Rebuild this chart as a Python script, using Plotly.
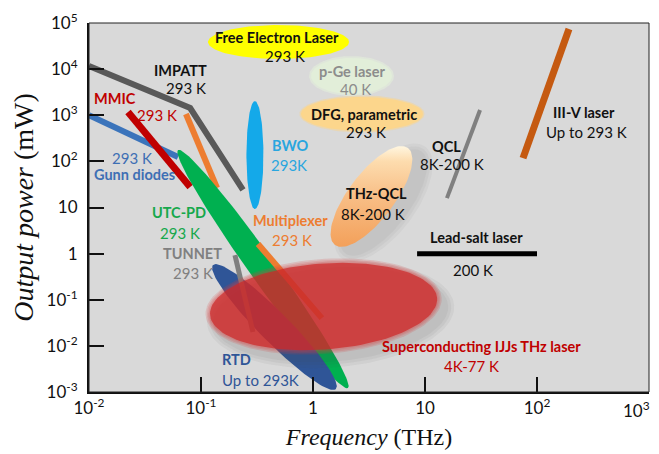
import numpy as np
import plotly.graph_objects as go

# ---------------- figure geometry (page body has an 8px margin) ----------------
W, H = 651, 446
ML, MR, MT, MB = 81, 10, 15, 62
XR = (-2, 3)   # log10 THz
YR = (-3, 5)   # log10 mW
KX = (W - ML - MR) / (XR[1] - XR[0])
KY = (H - MT - MB) / (YR[1] - YR[0])

# ---------------- data: line-type sources (freq THz, power mW) ----------------
impatt_f = [0.01, 0.08, 0.237]
impatt_p = [11700, 1435, 24]
gunn_f = [0.01, 0.0624]
gunn_p = [1000, 124]
mmic_f = [0.0223, 0.08]
mmic_p = [1175, 27.8]
mux_upper_f = [0.0734, 0.139]
mux_upper_p = [1064, 26.5]
mux_lower_f = [0.323, 1.20]
mux_lower_p = [1.62, 0.040]
tunnet_f = [0.201, 0.291]
tunnet_p = [0.93, 0.020]
qcl_f = [15.7, 31]
qcl_p = [16, 1300]
iiiv_f = [75, 193]
iiiv_p = [118, 74000]
leadsalt_f = [8.5, 100]
leadsalt_p = [1.0, 1.0]

# ---------------- data: region-type sources (tip-to-tip) ----------------
fel_f = [0.1155, 2.1]
fel_p = [38700, 38700]
pge_f = [0.96, 5.07]
pge_p = [7100, 7100]
dfg_f = [0.78, 9.6]
dfg_p = [1065, 1065]
bwo_f = [0.303, 0.303]
bwo_p = [2040, 9.27]
thzqcl_f = [1.57, 7.05]
thzqcl_p = [1.54, 195]
utcpd_f = [0.0624, 2.05]
utcpd_p = [176, 0.00122]
rtd_f = [0.128, 1.6]
rtd_p = [0.567, 0.00116]
ijj_f = [0.118, 13.1]
ijj_p = [0.0467, 0.109]

# ---------------- tick labels ----------------
x_tickvals = [0.01, 0.1, 1, 10, 100, 1000]
x_ticktext = ["10<sup>-2</sup>", "10<sup>-1</sup>", "1", "10", "10<sup>2</sup>", ""]
x_last_label = "10<sup>3</sup>"
y_tickvals = [1e-3, 1e-2, 1e-1, 1, 10, 100, 1e3, 1e4, 1e5]
y_ticktext = ["10<sup>-3</sup>", "10<sup>-2</sup>", "10<sup>-1</sup>", "1", "10",
              "10<sup>2</sup>", "10<sup>3</sup>", "10<sup>4</sup>", "10<sup>5</sup>"]


def ellipse(fs, ps, width, grow=0.0, dx=0.0, dy=0.0, n=120):
    """Ellipse through two tips (data values), width in screen px."""
    X = (np.log10(fs) - XR[0]) * KX
    Y = (np.log10(ps) - YR[0]) * KY
    cx, cy = X.mean() + dx, Y.mean() - dy
    a = np.hypot(X[1] - X[0], Y[1] - Y[0]) / 2 + grow
    b = width / 2 + grow
    th = np.arctan2(Y[1] - Y[0], X[1] - X[0])
    t = np.linspace(0, 2 * np.pi, n)
    ex, ey = a * np.cos(t), b * np.sin(t)
    px = cx + ex * np.cos(th) - ey * np.sin(th)
    py = cy + ex * np.sin(th) + ey * np.cos(th)
    return 10 ** (px / KX + XR[0]), 10 ** (py / KY + YR[0])


fig = go.Figure()


def add_region(fs, ps, width, color, grow=0.0, dx=0.0, dy=0.0, **kw):
    ex, ey = ellipse(fs, ps, width, grow, dx, dy)
    fig.add_trace(go.Scatter(x=ex, y=ey, mode="lines", fill="toself",
                             fillcolor=color, line=dict(width=0),
                             hoverinfo="skip", showlegend=False, **kw))


def add_line(fs, ps, color, width):
    fig.add_trace(go.Scatter(x=fs, y=ps, mode="lines",
                             line=dict(color=color, width=width),
                             hoverinfo="skip", showlegend=False))


# top regions
add_region(fel_f, fel_p, 34, "#ffff00")
add_region(pge_f, pge_p, 36, "rgba(226,238,218,0.6)", grow=2)
add_region(pge_f, pge_p, 36, "#e2eed9")
add_region(dfg_f, dfg_p, 34, "rgba(252,214,140,0.5)", grow=1.5)
add_region(dfg_f, dfg_p, 34, "#fcd68c")

# THz-QCL shadow + body
for g in [9, 6, 3]:
    add_region(thzqcl_f, thzqcl_p, 46, "rgba(90,90,90,0.055)", grow=g, dx=12, dy=6)
ex, ey = ellipse(thzqcl_f, thzqcl_p, 46)
fig.add_trace(go.Scatter(x=ex, y=ey, mode="lines", fill="toself",
                         fillgradient=dict(type="vertical",
                                           colorscale=[[0, "#f3a05a"], [0.5, "#f8be86"],
                                                       [0.85, "#fddcae"], [1, "#fff6e0"]]),
                         line=dict(width=0), hoverinfo="skip", showlegend=False))

# low-frequency electronic sources
add_line(mux_upper_f, mux_upper_p, "#ed7d31", 6)
add_line(impatt_f, impatt_p, "#595959", 6)
add_line(gunn_f, gunn_p, "#3b74bb", 6)
add_line(mmic_f, mmic_p, "#c00000", 7)
add_region(bwo_f, bwo_p, 17, "#14a9e9")
add_region(utcpd_f, utcpd_p, 26, "#00b050")
add_line(mux_lower_f, mux_lower_p, "#ed7d31", 6)
add_region(rtd_f, rtd_p, 30, "#2f5597")
add_line(tunnet_f, tunnet_p, "#7f7f7f", 5)

# high-frequency lasers
add_line(qcl_f, qcl_p, "#808080", 4)
add_line(iiiv_f, iiiv_p, "#c55a11", 7)
add_line(leadsalt_f, leadsalt_p, "#000000", 5)

# superconducting IJJ laser (soft, translucent)
for g in [9, 6, 3]:
    add_region(ijj_f, ijj_p, 88, "rgba(70,70,70,0.06)", grow=g, dx=7, dy=8)
for g in [3.5, 2, 0.5]:
    add_region(ijj_f, ijj_p, 88, "rgba(215,60,60,0.18)", grow=g)
add_region(ijj_f, ijj_p, 88, "rgba(205,40,40,0.72)", grow=-1)

# ---------------- labels (text, log10 f, log10 P, color, bold) ----------------
labels = [
    ("IMPATT", -1.179, 3.981, "#111111", True),
    ("293 K", -1.134, 3.591, "#111111", False),
    ("MMIC", -1.768, 3.374, "#c00000", True),
    ("293 K", -1.393, 3.005, "#c00000", False),
    ("293 K", -1.616, 2.073, "#3e6fb4", False),
    ("Gunn diodes", -1.598, 1.705, "#3e6fb4", True),
    ("BWO", -0.205, 2.355, "#29a6df", True),
    ("293K", -0.214, 1.921, "#29a6df", False),
    ("UTC-PD", -1.196, 0.902, "#16a84c", True),
    ("293 K", -1.188, 0.447, "#16a84c", False),
    ("Multiplexer", -0.205, 0.729, "#ed7d31", True),
    ("293 K", -0.188, 0.295, "#ed7d31", False),
    ("TUNNET", -1.080, 0.0135, "#808080", True),
    ("293 K", -1.071, -0.420, "#808080", False),
    ("RTD", -0.679, -2.285, "#2f5597", True),
    ("Up to 293K", -0.473, -2.740, "#2f5597", False),
    ("Free Electron Laser", -0.321, 4.696, "#111111", True),
    ("293 K", -0.25, 4.285, "#111111", False),
    ("p-Ge laser", 0.348, 3.959, "#8c8c8c", True),
    ("40 K", 0.375, 3.569, "#8c8c8c", False),
    ("DFG, parametric", 0.455, 3.027, "#111111", True),
    ("293 K", 0.473, 2.637, "#111111", False),
    ("THz-QCL", 0.571, 1.314, "#111111", True),
    ("8K-200 K", 0.536, 0.859, "#111111", False),
    ("QCL", 1.1875, 2.32, "#111111", True),
    ("8K-200 K", 1.241, 1.95, "#111111", False),
    ("III-V laser", 2.420, 3.049, "#111111", True),
    ("Up to 293 K", 2.446, 2.637, "#111111", False),
    ("Lead-salt laser", 1.464, 0.339, "#111111", True),
    ("200 K", 1.429, -0.355, "#111111", False),
    ("Superconducting IJJs THz laser", 1.5, -2.024, "#c00000", True),
    ("4K-77 K", 1.411, -2.436, "#c00000", False),
]
for txt, lx, ly, col, bold in labels:
    fig.add_annotation(x=lx, y=ly, xref="x", yref="y",
                       text=f"<b>{txt}</b>" if bold else txt,
                       showarrow=False, xanchor="center", yanchor="middle",
                       font=dict(family="Lato", size=14.5 if bold else 15, color=col))

# last x tick label (kept inside the page)
fig.add_annotation(x=1, y=0, xref="paper", yref="paper", text=x_last_label,
                   showarrow=False, xanchor="right", yanchor="top",
                   xshift=3, yshift=-4,
                   font=dict(family="Lato", size=17, color="#111111"))

fig.add_shape(type="rect", xref="paper", yref="paper", x0=0, y0=0, x1=1, y1=1,
              line=dict(color="#222222", width=1), layer="above")

fig.update_layout(
    width=W, height=H,
    margin=dict(l=ML, r=MR, t=MT, b=MB, autoexpand=False),
    paper_bgcolor="white", plot_bgcolor="#d9d9d9",
    showlegend=False,
    xaxis=dict(type="log", range=list(XR), tickvals=x_tickvals, ticktext=x_ticktext,
               ticks="inside", ticklen=15, tickwidth=1.5, tickcolor="#111111",
               showline=True, linewidth=2, linecolor="#111111",
               showgrid=False, zeroline=False,
               tickfont=dict(family="Lato", size=17, color="#111111"),
               title=dict(text="<i>Frequency</i> (THz)", standoff=11,
                          font=dict(family="Liberation Serif", size=24, color="#111111")),
               automargin=False),
    yaxis=dict(type="log", range=list(YR), tickvals=y_tickvals, ticktext=y_ticktext,
               ticks="inside", ticklen=15, tickwidth=1.5, tickcolor="#111111",
               showline=True, linewidth=2, linecolor="#111111",
               showgrid=False, zeroline=False,
               tickfont=dict(family="Lato", size=17, color="#111111"),
               ticklabelstandoff=6,
               title=dict(text="<i>Output power</i> (mW)", standoff=5,
                          font=dict(family="Liberation Serif", size=28, color="#111111")),
               automargin=False),
)

fig.write_html("out.html")
